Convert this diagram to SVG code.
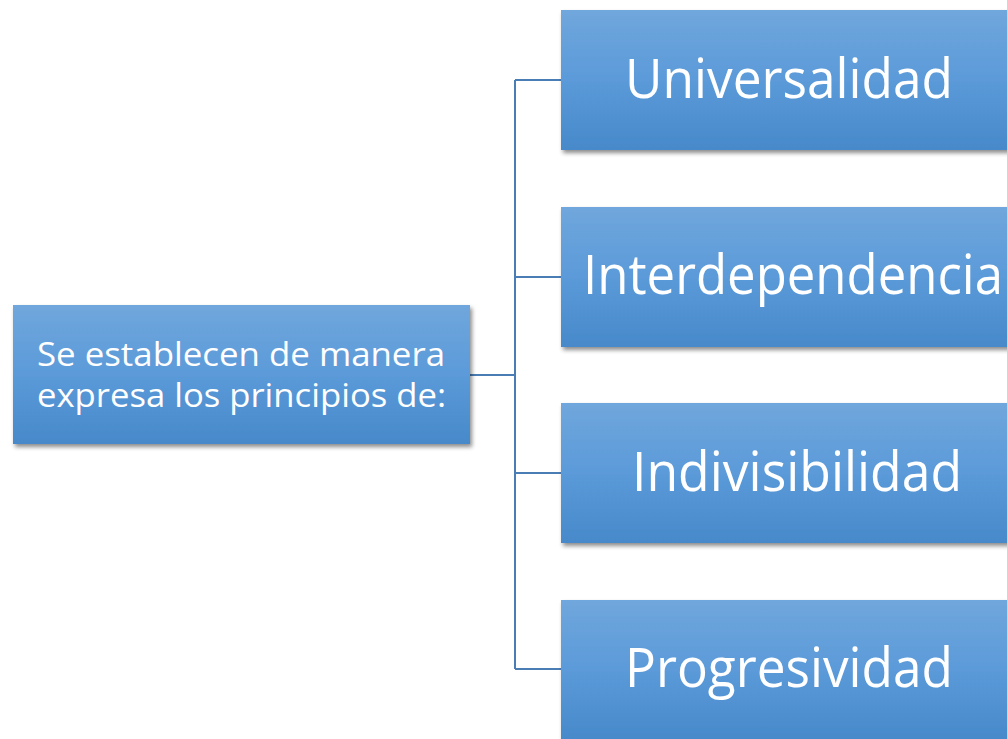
<svg xmlns="http://www.w3.org/2000/svg" width="1007" height="739" viewBox="0 0 1007 739">
<defs>
<linearGradient id="g" x1="0" y1="0" x2="0" y2="1">
<stop offset="0" stop-color="#70a7dc"/>
<stop offset="0.5" stop-color="#5b9ad9"/>
<stop offset="1" stop-color="#4789ca"/>
</linearGradient>
<filter id="sh" x="-5%" y="-5%" width="112%" height="120%">
<feDropShadow dx="2" dy="3" stdDeviation="2.2" flood-color="#000" flood-opacity="0.45"/>
</filter>
<style>
.box{fill:url(#g);filter:url(#sh)}
.t{font-family:"Open Sans","Noto Sans","Liberation Sans",sans-serif;fill:#fff}
.big{font-size:55px}
.small{font-size:32px}
.c{fill:none;stroke:#4a7db4;stroke-width:2}
</style>
</defs>
<rect width="1007" height="739" fill="#fff"/>
<g id="connectors">
<path class="c" d="M470 375H515M515 80V669M515 80H561M515 277H561M515 473H561M515 669H561"/>
</g>
<g id="root">
<rect class="box" x="13" y="305" width="457" height="139"/>
<text class="t small" x="37" y="366" textLength="408" lengthAdjust="spacingAndGlyphs">Se establecen de manera</text>
<text class="t small" x="37" y="407" textLength="409" lengthAdjust="spacingAndGlyphs">expresa los principios de:</text>
</g>
<g id="n1">
<rect class="box" x="561" y="10" width="457" height="140"/>
<text class="t big" x="625" y="98" textLength="328" lengthAdjust="spacingAndGlyphs">Universalidad</text>
</g>
<g id="n2">
<rect class="box" x="561" y="207" width="457" height="140"/>
<text class="t big" x="583" y="294" textLength="420" lengthAdjust="spacingAndGlyphs">Interdependencia</text>
</g>
<g id="n3">
<rect class="box" x="561" y="403" width="457" height="140"/>
<text class="t big" x="632" y="491" textLength="330" lengthAdjust="spacingAndGlyphs">Indivisibilidad</text>
</g>
<g id="n4">
<rect class="box" x="561" y="600" width="457" height="140"/>
<text class="t big" x="625" y="687" textLength="328" lengthAdjust="spacingAndGlyphs">Progresividad</text>
</g>
</svg>
